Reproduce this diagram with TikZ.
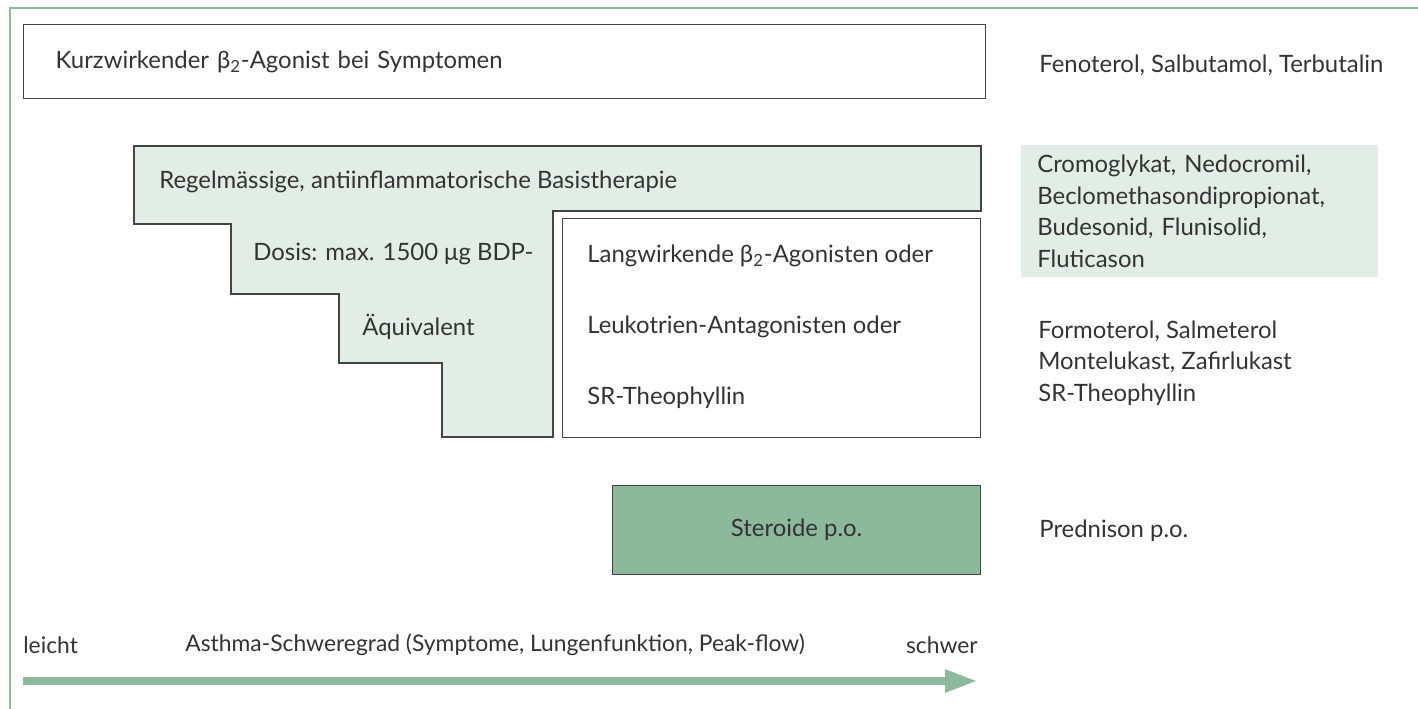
\documentclass[tikz,border=0pt]{standalone}
\usepackage{fontspec}
\setmainfont{Lato}
\usetikzlibrary{arrows.meta,positioning}
\definecolor{framegreen}{HTML}{8DB99D}
\definecolor{palegreen}{HTML}{E2EDE5}
\definecolor{stergreen}{HTML}{8CB89C}
\definecolor{ink}{HTML}{333333}
\definecolor{edge}{HTML}{444444}
\begin{document}
\begin{tikzpicture}[x=0.02cm, y=-0.02cm, text=ink,
    font=\fontsize{13.6}{18}\selectfont,
    label/.style={anchor=west, inner sep=0pt},
    box/.style={draw=edge, line width=0.8pt, rectangle},
    >={Triangle[length=0.66cm, width=0.42cm]}]
    \useasboundingbox (0,0) rectangle (1418,709);
    \draw[framegreen, line width=1.7pt] (1418,8) -| (10,709);

    \node[box, anchor=north west, minimum width=19.24cm, minimum height=1.48cm, text width=17.96cm, inner xsep=0.64cm, align=left] (kurz) at (23,24) {Kurzwirkender β\textsubscript{2}-Agonist bei Symptomen};
    \node[label] (fenoterol) at (1039,65) {Fenoterol, Salbutamol, Terbutalin};

    \draw[box, fill=palegreen] (134,146) -- (981,146) -- (981,211) -- (553,211) -- (553,437) -- (442,437) -- (442,363) -- (339,363) -- (339,294) -- (231,294) -- (231,224) -- (134,224) -- cycle;
    \node[label] (basis) at (159,182) {Regelmässige, antiinflammatorische Basistherapie};
    \node[label] (dosis) at (253,254) {Dosis: max. 1500 μg BDP-};
    \node[label] (aequi) at (362,327) {Äquivalent};

    \node[box, fill=white, anchor=north west, minimum width=8.36cm, minimum height=4.38cm] (zusatz) at (562,218) {};
    \node[label] (lang) at (587,256) {Langwirkende β\textsubscript{2}-Agonisten oder};
    \node[label] (leuko) at (587,327) {Leukotrien-Antagonisten oder};
    \node[label] (theo) at (587,398) {SR-Theophyllin};

    \node[fill=palegreen, anchor=north west, minimum width=7.14cm, minimum height=2.64cm, text width=6.5cm, inner xsep=0.32cm, align=left] (inhal) at (1021,145) {Cromoglykat, Nedocromil,\\Beclomethasondipropionat,\\Budesonid, Flunisolid,\\Fluticason};
    \node[label, align=left] (oral) at (1038,363) {Formoterol, Salmeterol\\Montelukast, Zafirlukast\\SR-Theophyllin};

    \node[box, fill=stergreen, anchor=north west, minimum width=7.36cm, minimum height=1.78cm] (steroid) at (612,485) {Steroide p.o.};
    \node[label] (prednison) at (1039,531) {Prednison p.o.};

    % Schweregrad-Achse
    \node[label, font=\fontsize{13}{16}\selectfont] (leicht) at (23,645) {leicht};
    \node[label, font=\fontsize{13}{16}\selectfont] (grad) at (185,645) {Asthma-Schweregrad (Symptome, Lungenfunktion, Peak-flow)};
    \node[label, font=\fontsize{13}{16}\selectfont, anchor=east] (schwer) at (978,645) {schwer};
    \coordinate (lo) at (23,681);
    \coordinate (hi) at (978,681);
    \draw[->, framegreen, line width=0.16cm] (lo) -- (hi);
\end{tikzpicture}
\end{document}
